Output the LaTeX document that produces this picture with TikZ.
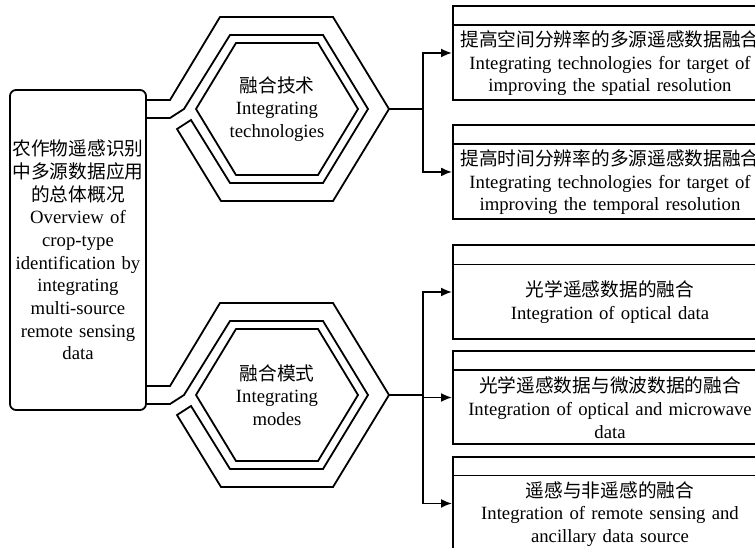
\documentclass[tikz,border=0pt]{standalone}
\usepackage{fontspec}
\setmainfont{Liberation Serif}
\newfontfamily\cjk{Noto Sans CJK SC}
\usetikzlibrary{positioning}
\usetikzlibrary{calc}
\usetikzlibrary{arrows.meta}
\newcommand{\zh}[1]{{\cjk #1}}
\newcommand{\hd}{\rule{0pt}{36.5pt}}
\newcommand{\hexring}[1]{%
  \begin{scope}[shift={(#1.center)}]
    \draw (-131,-9) -- (-107,-9) -- (-57,-92) -- (56,-92) -- (112,0) -- (56,92) -- (-56,92) -- (-100,20) -- (-86,11)
      -- (-47,74) -- (46,74) -- (91,0) -- (46,-74) -- (-47,-74) -- (-93,0) -- (-107,9) -- (-131,9);
    \draw (-81,0) -- (-41,-66) -- (41,-66) -- (81,0) -- (41,66) -- (-41,66) -- cycle;
  \end{scope}}

\begin{document}
\begin{tikzpicture}[x=1pt,y=-1pt,line width=1.8pt,
    every node/.style={font=\fontsize{18.7}{22.7}\selectfont},
    res/.style={draw,line width=2pt,anchor=west,minimum width=314pt,minimum height=93pt,text width=306pt,inner sep=4pt,align=center}]
    \useasboundingbox (0,0) rectangle (755,548);
    \node[draw,rounded corners=6pt,minimum width=136pt,minimum height=320pt,text width=136pt,inner sep=0pt,align=center] (ov) at (78,250)
      {\zh{农作物遥感识别}\\\zh{中多源数据应用}\\\zh{的总体概况}\\Overview of\\crop-type\\identification by\\integrating\\multi-source\\remote sensing\\data};
    \node[align=center] (tech) at (277,109) {\zh{融合技术}\\Integrating\\technologies};
    \node[align=center] (mode) at (277,395) {\zh{融合模式}\\Integrating\\modes};
    \hexring{tech}
    \hexring{mode}
    \node[res] (s1) at (452,53) {\hd\zh{提高空间分辨率的多源遥感数据融合}\\Integrating technologies for target of\\improving the spatial resolution};
    \node[res,below=23pt of s1] (s2) {\hd\zh{提高时间分辨率的多源遥感数据融合}\\Integrating technologies for target of\\improving the temporal resolution};
    \node[res] (o1) at (452,292) {\hd\zh{光学遥感数据的融合}\\Integration of optical data};
    \node[res,below=10.5pt of o1] (o2) {\hd\zh{光学遥感数据与微波数据的融合}\\Integration of optical and microwave\\data};
    \node[res,below=10.5pt of o2] (o3) {\hd\zh{遥感与非遥感的融合}\\Integration of remote sensing and\\ancillary data source};
    \draw ([yshift=-20pt]s1.north west) -- ([yshift=-20pt]s1.north east);
    \draw ([yshift=-20pt]s2.north west) -- ([yshift=-20pt]s2.north east);
    \draw ([yshift=-20pt]o1.north west) -- ([yshift=-20pt]o1.north east);
    \draw ([yshift=-20pt]o2.north west) -- ([yshift=-20pt]o2.north east);
    \draw ([yshift=-20pt]o3.north west) -- ([yshift=-20pt]o3.north east);
    \coordinate (techtip) at ($(tech)+(112,0)$);
    \coordinate[right=34pt of techtip] (techfork);
    \coordinate (modetip) at ($(mode)+(112,0)$);
    \coordinate[right=34pt of modetip] (modefork);
    \draw (techtip) -- (techfork);
    \draw[-{Latex[length=11pt,width=9pt]}] (techfork) |- (s1);
    \draw[-{Latex[length=11pt,width=9pt]}] (techfork) |- (s2);
    \draw (modetip) -- (modefork);
    \draw[-{Latex[length=11pt,width=9pt]}] (modefork) |- (o1);
    \draw[-{Latex[length=11pt,width=9pt]}] (modefork) |- (o2);
    \draw[-{Latex[length=11pt,width=9pt]}] (modefork) |- (o3);
\end{tikzpicture}
\end{document}
